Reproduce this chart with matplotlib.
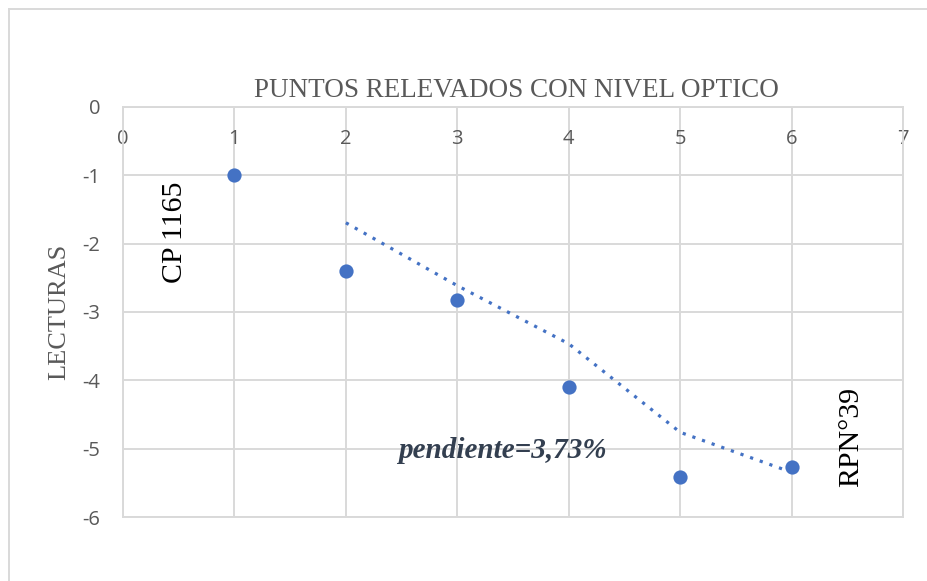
import numpy as np
import pandas as pd
import matplotlib
matplotlib.use("Agg")
import matplotlib.pyplot as plt
from matplotlib.lines import Line2D

plt.rcParams["axes.unicode_minus"] = False

# lecturas del nivel optico
puntos = [1, 2, 3, 4, 5, 6]
lecturas = [-0.99, -2.40, -2.83, -4.10, -5.42, -5.27]
x_ticks = [0, 1, 2, 3, 4, 5, 6, 7]
y_ticks = [0, -1, -2, -3, -4, -5, -6]

# tendencia: media movil de 2 periodos (como Excel)
media_movil = pd.Series(lecturas).rolling(2).mean()

azul = "#4472C4"
gris = "#D9D9D9"
texto_gris = "#595959"

fig = plt.figure(figsize=(9.27, 5.81), dpi=100)
ax = fig.add_axes([0.1327, 0.110, 0.8415, 0.706])

ax.scatter(puntos, lecturas, s=105, color=azul, zorder=3, linewidths=0)
ax.plot(puntos, media_movil, color=azul, lw=2.3, linestyle=(0, (1, 2.2)), zorder=2)

ax.set_xlim(0, 7)
ax.set_ylim(-6, 0)
ax.set_xticks(x_ticks)
ax.set_yticks(y_ticks)
ax.grid(True, color=gris, lw=1.4)
ax.set_axisbelow(True)
for s in ax.spines.values():
    s.set_color(gris)
    s.set_linewidth(1.4)

ax.tick_params(axis="x", bottom=False, labelbottom=False, top=False, labeltop=True,
               pad=-34, labelsize=14.5, labelcolor=texto_gris)
ax.tick_params(axis="y", left=False, pad=13, labelsize=14.5, labelcolor=texto_gris)
for lab in ax.get_yticklabels() + ax.get_xticklabels():
    lab.set_family("Open Sans")

fig.text(0.557, 0.845, "PUNTOS RELEVADOS CON NIVEL OPTICO", ha="center", va="center",
         family="Liberation Serif", fontsize=19.5, color=texto_gris)
fig.text(0.064, 0.463, "LECTURAS", rotation=90, ha="center", va="center",
         family="Liberation Serif", fontsize=19, color=texto_gris)

ax.text(0.47, -1.84, "CP 1165", rotation=90, ha="center", va="center",
        family="Liberation Serif", fontsize=21.5, color="black")
ax.text(6.53, -4.83, "RPN°39", rotation=90, ha="center", va="center",
        family="Liberation Serif", fontsize=21.5, color="black")
ax.text(3.4, -5.03, "pendiente=3,73%", ha="center", va="center",
        family="Liberation Serif", fontsize=21, fontweight="bold", fontstyle="italic",
        color="#333F50")

# borde del area del grafico
fig.add_artist(Line2D([8.5 / 927, 8.5 / 927], [0, 1 - 9 / 581], color=gris, lw=1.4))
fig.add_artist(Line2D([8.5 / 927, 1], [1 - 9 / 581, 1 - 9 / 581], color=gris, lw=1.4))

fig.savefig("out.png", dpi=100)
